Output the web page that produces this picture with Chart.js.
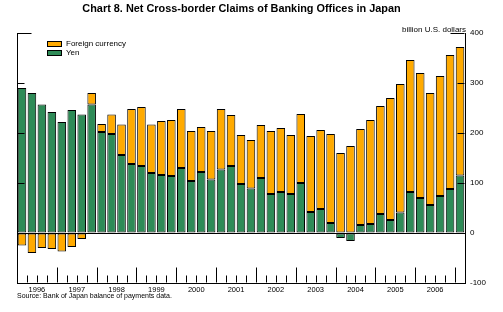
<!DOCTYPE html>
<html>
<head>
<meta charset="utf-8">
<script src="https://cdn.jsdelivr.net/npm/chart.js@4.4.1/dist/chart.umd.min.js"></script>
<style>
  body { margin: 0; background: #fff; font-family: "Liberation Sans", Arial, sans-serif; }
  #wrap { position: relative; width: 503px; height: 312px; }
  #chart { position: absolute; left: 0; top: 0; }
  .txt { position: absolute; color: #000; white-space: nowrap; line-height: 1; }
  #title { left: 0; width: 483px; top: 3px; text-align: center; font-weight: bold; font-size: 10.9px; }
  #unit { right: 37px; top: 26px; font-size: 8px; }
  #source { left: 17px; top: 292px; font-size: 7px; }
  .leg { position: absolute; left: 47px; font-size: 8px; line-height: 1; }
  .leg span.box { display: inline-block; width: 13px; height: 4px; border: 1px solid #000; margin-right: 4px; vertical-align: middle; }
</style>
</head>
<body>
<div id="wrap">
  <canvas id="chart" width="503" height="312"></canvas>
  <div class="txt" id="title">Chart 8. Net Cross-border Claims of Banking Offices in Japan</div>
  <div class="txt" id="unit">billion U.S. dollars</div>
  <div class="leg" style="top:40px"><span class="box" style="background:#FFAA00"></span>Foreign currency</div>
  <div class="leg" style="top:49px"><span class="box" style="background:#2E8B57"></span>Yen</div>
  <div class="txt" id="source">Source: Bank of Japan balance of payments data.</div>
</div>
<script>
// quarterly, 1996 Q1 .. 2007 Q1
const years = ['1996', '1997', '1998', '1999', '2000', '2001', '2002', '2003', '2004', '2005', '2006', '2007'];
const quarters = [];
years.forEach(y => ['Q1', 'Q2', 'Q3', 'Q4'].forEach(q => quarters.push(y + ' ' + q)));
quarters.length = 45;

// billion U.S. dollars
const yen = [290, 280, 257, 242, 222, 246, 237, 257, 202, 198, 156, 138, 134, 120, 116, 114,
  130, 104, 122, 107, 127, 134, 98, 89, 110, 78, 82, 78, 100, 42, 48, 20,
  -10, -16, 16, 18, 38, 26, 41, 82, 70, 56, 74, 88, 115];
const foreign = [-25, -40, -30, -32, -37, -28, -12, 23, 16, 39, 61, 110, 118, 97, 108, 112,
  118, 100, 90, 97, 121, 102, 98, 97, 106, 126, 128, 118, 138, 152, 158, 178,
  160, 174, 192, 208, 216, 244, 257, 264, 250, 224, 240, 268, 257];

const yTicks = [-100, 0, 100, 200, 300, 400];

// inward tick marks, left axis line
const frame = {
  id: 'frame',
  afterDraw(chart) {
    const { ctx, chartArea: a, scales } = chart;
    const x = scales.x, y = scales.y;
    ctx.save();
    ctx.strokeStyle = '#000';
    ctx.lineWidth = 1;
    ctx.beginPath();
    const L = Math.round(a.left) + 0.5, R = Math.round(a.right) - 0.5, B = Math.round(a.bottom) - 0.5;
    ctx.moveTo(L, a.top); ctx.lineTo(L, a.bottom);
    yTicks.forEach(v => {
      if (v <= 0) return;
      const py = Math.round(y.getPixelForValue(v)) + 0.5;
      const len = v === 400 ? 14 : 7;
      ctx.moveTo(L, py); ctx.lineTo(L + len, py);
      ctx.moveTo(R, py); ctx.lineTo(R - len, py);
    });
    for (let i = 1; i < quarters.length; i++) {
      const px = Math.round((x.getPixelForValue(i - 1) + x.getPixelForValue(i)) / 2) + 0.5;
      const len = i % 4 === 0 ? 15 : 7;
      ctx.moveTo(px, B); ctx.lineTo(px, B - len);
    }
    ctx.stroke();
    ctx.restore();
  }
};

new Chart(document.getElementById('chart'), {
  type: 'bar',
  data: {
    labels: quarters,
    datasets: [
      { label: 'Yen', data: yen, backgroundColor: '#2E8B57' },
      { label: 'Foreign currency', data: foreign, backgroundColor: '#FFAA00' }
    ]
  },
  options: {
    responsive: false,
    animation: false,
    layout: { padding: { left: 17, top: 33, right: 0, bottom: 0 } },
    datasets: {
      bar: { borderColor: '#000', borderWidth: 1, borderSkipped: false, categoryPercentage: 1, barPercentage: 0.86 }
    },
    plugins: { legend: { display: false }, tooltip: { enabled: false } },
    scales: {
      x: {
        stacked: true,
        grid: { display: false, drawTicks: false },
        border: { display: true, color: '#000' },
        ticks: {
          autoSkip: false, maxRotation: 0, color: '#000', padding: 2, labelOffset: 5,
          font: { family: '"Liberation Sans", Arial', size: 7.5 },
          callback: (v, i) => (i % 4 === 1 && i < 44) ? years[(i - 1) / 4] : ''
        },
        afterFit: s => { s.height = 29; }
      },
      y: {
        position: 'right',
        stacked: true,
        min: -100, max: 400,
        grid: {
          drawTicks: false,
          color: c => (c.tick && c.tick.value === 0) ? '#000' : 'rgba(0,0,0,0)'
        },
        border: { display: true, color: '#000' },
        ticks: {
          stepSize: 100, color: '#000', padding: 5,
          font: { family: '"Liberation Sans", Arial', size: 8 }
        },
        afterFit: s => { s.width = 38; }
      }
    }
  },
  plugins: [frame]
});
</script>
</body>
</html>
